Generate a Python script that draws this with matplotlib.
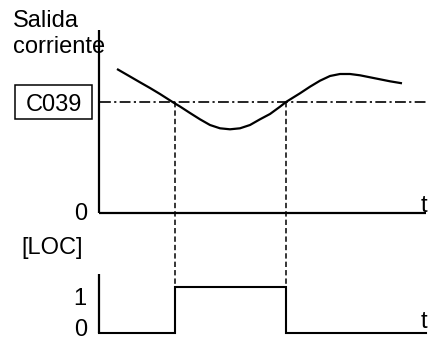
import matplotlib
matplotlib.use("Agg")
import matplotlib.pyplot as plt
from matplotlib.patches import Rectangle

plt.rcParams['font.family'] = ['Liberation Sans', 'DejaVu Sans']

# ---- data (diagram coordinates) ----
curve_t = [117, 130, 140, 150, 160, 173, 180, 190, 200, 210, 220, 230, 240, 250,
           260, 270, 280, 286, 290, 300, 310, 320, 330, 340, 350, 360, 370, 380,
           390, 402]
curve_i = [69, 76.5, 82.3, 88, 94, 102.3, 106.5, 113, 119.3, 125, 128.3, 129.3,
           128.3, 125, 119.3, 114, 106.7, 102, 99.5, 93.3, 86.7, 80.7, 76, 74, 74,
           75.3, 77.3, 79.3, 81.3, 83.3]
threshold = 102
t_on = 175
t_off = 286
axis_t0 = 99
axis_t1 = 426
upper_zero = 213
upper_top = 30
lower_zero = 333
lower_one = 287
lower_top = 274

fig = plt.figure(figsize=(4.28, 3.40), dpi=100)
ax = fig.add_axes([0, 0, 1, 1])
ax.set_xlim(0, 428)
ax.set_ylim(340, 0)
ax.axis('off')

k = 'black'
# upper axes
ax.plot([axis_t0, axis_t0], [upper_top, upper_zero], color=k, lw=1.6, solid_capstyle='butt')
ax.plot([axis_t0, axis_t1], [upper_zero, upper_zero], color=k, lw=1.6, solid_capstyle='butt')
# threshold dash-dot
ax.plot([axis_t0 + 1, axis_t1], [threshold, threshold], color=k, lw=1.2,
        dashes=(6.5, 2.0, 1.3, 2.0))
# curve
ax.plot(curve_t, curve_i, color=k, lw=1.6, solid_joinstyle='round', solid_capstyle='butt')
# vertical dashed lines
for tt in (t_on, t_off):
    ax.plot([tt, tt], [threshold, lower_one], color=k, lw=1.1, dashes=(3.5, 2.0))
# lower axes
ax.plot([axis_t0, axis_t0], [lower_top, lower_zero], color=k, lw=1.6, solid_capstyle='butt')
ax.plot([axis_t0, t_on, t_on, t_off, t_off, axis_t1],
        [lower_zero, lower_zero, lower_one, lower_one, lower_zero, lower_zero],
        color=k, lw=1.5, solid_joinstyle='miter')

fs = 17
ax.text(13, 27, 'Salida', fontsize=fs, va='baseline', ha='left')
ax.text(13, 53, 'corriente', fontsize=fs, va='baseline', ha='left')
ax.add_patch(Rectangle((15, 85), 77, 34, fill=False, ec=k, lw=1.1))
ax.text(54, 111, 'C039', fontsize=fs, va='baseline', ha='center')
ax.text(87, 220, '0', fontsize=fs, va='baseline', ha='right')
ax.text(21, 254, '[LOC]', fontsize=fs, va='baseline', ha='left')
ax.text(86, 305, '1', fontsize=fs, va='baseline', ha='right')
ax.text(87, 336, '0', fontsize=fs, va='baseline', ha='right')
ax.text(427, 212, 't', fontsize=fs, va='baseline', ha='right')
ax.text(427, 328, 't', fontsize=fs, va='baseline', ha='right')

fig.savefig('out.png', dpi=100)
